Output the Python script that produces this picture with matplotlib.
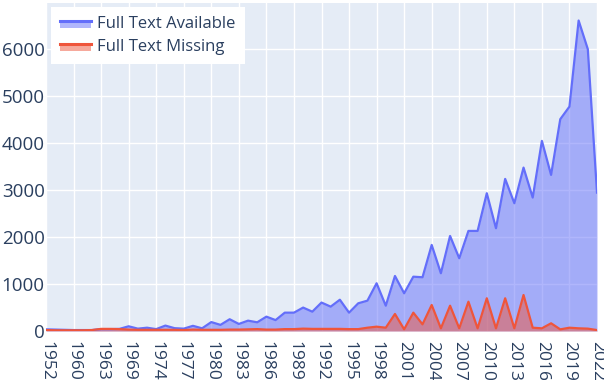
import matplotlib.pyplot as plt
import numpy as np
from matplotlib.legend_handler import HandlerBase
from matplotlib.lines import Line2D
from matplotlib.patches import Rectangle

plt.rcParams['font.family'] = ['Open Sans', 'DejaVu Sans']

years = [1952, 1955, 1957, 1960, 1961, 1962, 1963, 1965, 1967, 1969, 1971, 1972] + list(range(1974, 2023))

available = [35, 30, 25, 20, 20, 20, 40, 40, 45, 100, 50, 70,
             40, 115, 60, 50, 110, 57, 190, 130, 250, 150, 220, 185,
             305, 232, 390, 390, 498, 411, 605, 518, 665, 390, 589, 645,
             1015, 538, 1170, 802, 1155, 1143, 1830, 1228, 2021, 1547, 2128, 2128,
             2930, 2185, 3234, 2717, 3475, 2837, 4043, 3319, 4504, 4772, 6602, 5994,
             2943]

missing = [20, 15, 15, 15, 15, 20, 45, 45, 40, 30, 25, 25,
           25, 25, 25, 20, 30, 25, 25, 25, 30, 30, 35, 40,
           30, 30, 40, 40, 50, 45, 45, 45, 45, 40, 40, 70,
           92, 70, 362, 36, 390, 142, 553, 57, 538, 57, 623, 57,
           696, 57, 696, 57, 766, 70, 57, 164, 35, 70, 57, 50,
           20]

series = [("Full Text Available", available, "#636efa"),
          ("Full Text Missing", missing, "#EF553B")]

text_color = "#2a3f5f"


class AreaHandler(HandlerBase):
    def create_artists(self, legend, orig_handle, xdescent, ydescent, width, height, fontsize, trans):
        color = orig_handle.get_color()
        y0 = -ydescent
        rect = Rectangle((-xdescent, y0 + height * 0.05), width, height * 0.6,
                         facecolor=color, alpha=0.5, edgecolor="none", transform=trans)
        line = Line2D([-xdescent, -xdescent + width], [y0 + height * 0.65] * 2,
                      color=color, lw=2.2, transform=trans)
        return [rect, line]


fig = plt.figure(figsize=(6.04, 3.8), dpi=100)
ax = fig.add_axes([46 / 604, 49 / 380, 551 / 604, 328 / 380])
ax.set_facecolor("#E5ECF6")

x = np.arange(len(years))
handles = []
for name, vals, color in series:
    ax.fill_between(x, 0, vals, color=color, alpha=0.5, linewidth=0)
    h, = ax.plot(x, vals, color=color, lw=1.6, label=name)
    handles.append(h)

ax.set_xlim(0, len(years) - 1)
ax.set_ylim(0, 6975)
ax.set_xticks(x[::3])
ax.set_xticklabels([str(y) for y in years[::3]], rotation=-90, va="top", ha="center")
ax.set_yticks(np.arange(0, 7000, 1000))

ax.grid(True, color="white", lw=1)
ax.set_axisbelow(True)
for s in ax.spines.values():
    s.set_visible(False)
ax.tick_params(length=0, colors=text_color)
ax.tick_params(axis="y", pad=1, labelsize=13.5)
ax.tick_params(axis="x", pad=7, labelsize=12.5)

leg = ax.legend(handles=handles, handler_map={Line2D: AreaHandler()},
                loc="upper left", bbox_to_anchor=(0.009, 0.988), borderaxespad=0,
                fontsize=12, frameon=True, fancybox=False, framealpha=1,
                facecolor="white", edgecolor="none", handlelength=1.85,
                handletextpad=0.36, labelspacing=0.42, borderpad=0.55)
for t in leg.get_texts():
    t.set_color(text_color)

fig.savefig("out.png", dpi=100)
